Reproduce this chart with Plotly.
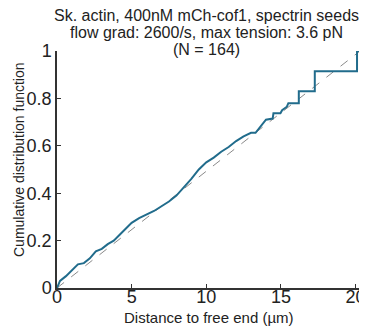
import plotly.graph_objects as go

# CDF data (distance to free end, µm)
distance = [0, 0.2, 0.6, 1.0, 1.4, 1.8, 2.2, 2.6, 3.0, 3.4, 3.8, 4.2, 4.6, 5.0,
            5.5, 6.0, 6.5, 7.0, 7.5, 8.0, 8.5, 9.0, 9.5, 10.0, 10.5, 11.0, 11.5,
            12.0, 12.5, 13.0, 13.3, 13.5, 13.75, 14.0, 14.45, 14.5, 14.97, 15.08,
            15.4, 15.5, 16.2, 16.2, 17.27, 17.27, 20.1, 20.1, 20.45]
cdf = [0.0, 0.03, 0.05, 0.075, 0.1, 0.105, 0.125, 0.155, 0.165, 0.185, 0.2, 0.225,
       0.25, 0.275, 0.295, 0.31, 0.325, 0.345, 0.365, 0.39, 0.425, 0.46, 0.5, 0.53,
       0.55, 0.575, 0.595, 0.62, 0.64, 0.655, 0.655, 0.67, 0.69, 0.71, 0.715, 0.737,
       0.737, 0.75, 0.765, 0.78, 0.78, 0.83, 0.83, 0.915, 0.915, 1.0, 1.0]

# uniform reference line
ref_x = [0, 20.3]
ref_y = [0, 1]

x_ticks = [0, 5, 10, 15, 20]
y_ticks = [0, 0.2, 0.4, 0.6, 0.8, 1]
y_tick_labels = ["0", "0.2", "0.4", "0.6", "0.8", "1"]

title_lines = ["Sk. actin, 400nM mCh-cof1, spectrin seeds",
               "flow grad: 2600/s, max tension: 3.6 pN",
               "(N = 164)"]
x_title = "Distance to free end (µm)"
y_title = "Cumulative distribution function"

font_family = "Liberation Sans, Arial, sans-serif"

# the page body has an 8px margin, so the figure is sized to fit the window
OFF = 8
W, H = 367 - OFF, 329 - OFF
L, R, T, B = 49, 4, 43, 41
PW, PH = W - L - R, H - T - B


def paper(sx, sy):
    """screen pixel -> paper coordinates"""
    fx, fy = sx - OFF, sy - OFF
    return (fx - L) / PW, 1 - (fy - T) / PH


fig = go.Figure()
fig.add_trace(go.Scatter(x=ref_x, y=ref_y, mode="lines",
                         line=dict(color="#8a8a8a", width=1, dash="dash"),
                         hoverinfo="skip", showlegend=False))
fig.add_trace(go.Scatter(x=distance, y=cdf, mode="lines",
                         line=dict(color="#216c8c", width=2),
                         showlegend=False))

annotations = []
for line, sy in zip(title_lines, [15, 32, 49]):
    px, py = paper(206, sy)
    annotations.append(dict(
        text=line, x=px, y=py, xref="paper", yref="paper",
        xanchor="center", yanchor="middle", showarrow=False,
        font=dict(size=16, color="#222222", family=font_family)))
px, py = paper(209, 317)
annotations.append(dict(text=x_title, x=px, y=py, xref="paper", yref="paper",
                        xanchor="center", yanchor="middle", showarrow=False,
                        font=dict(size=15, color="#222222", family=font_family)))
px, py = paper(19, 160)
annotations.append(dict(text=y_title, x=px, y=py, xref="paper", yref="paper",
                        xanchor="center", yanchor="middle", showarrow=False, textangle=-90,
                        font=dict(size=14, color="#222222", family=font_family)))

fig.update_layout(
    width=W, height=H,
    margin=dict(l=L, r=R, t=T, b=B, pad=0),
    paper_bgcolor="white", plot_bgcolor="white",
    font=dict(family=font_family, color="#222222", size=14),
    annotations=annotations,
)

fig.update_xaxes(range=[0, 20.5], tickvals=x_ticks, ticks="inside", ticklen=4,
                 tickwidth=1.2, tickcolor="#333333", automargin=False,
                 ticklabelstandoff=-8,
                 showline=True, linecolor="#333333", linewidth=1.5, mirror=False,
                 showgrid=False, zeroline=False,
                 tickfont=dict(size=18, color="#222222"))
fig.update_yaxes(range=[0, 1], tickvals=y_ticks, ticktext=y_tick_labels,
                 ticks="inside", ticklen=4, tickwidth=1.2, tickcolor="#333333",
                 automargin=False,
                 showline=True, linecolor="#333333", linewidth=1.5, mirror=False,
                 showgrid=False, zeroline=False,
                 tickfont=dict(size=18, color="#222222"))

fig.write_html("out.html")
